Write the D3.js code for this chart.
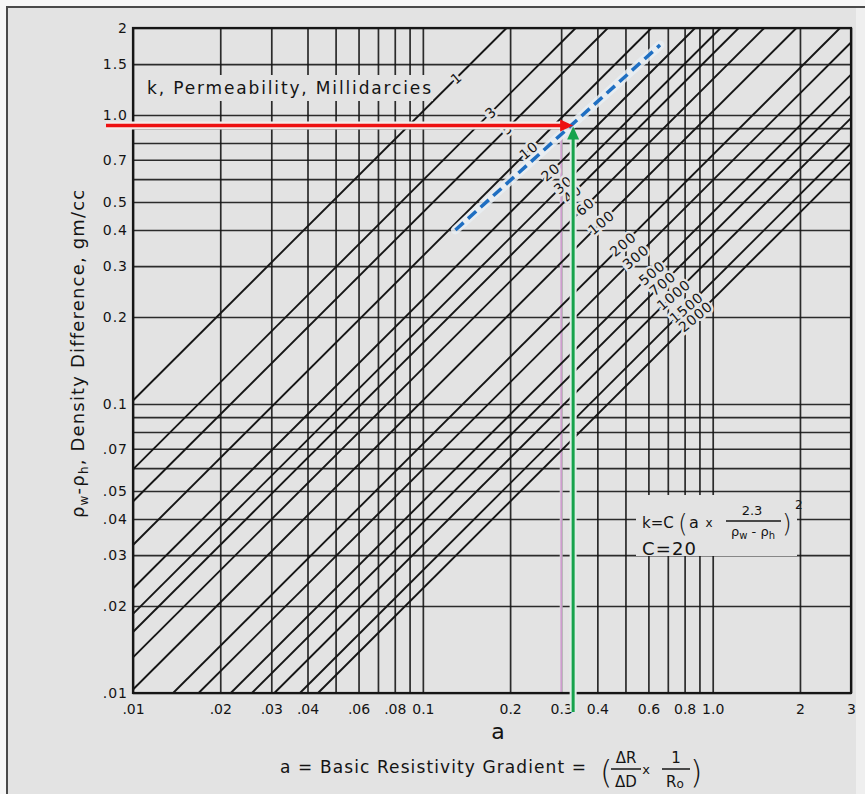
<!DOCTYPE html>
<html>
<head>
<meta charset="utf-8">
<script src="https://cdn.jsdelivr.net/npm/d3@7"></script>
<style>
  html, body { margin: 0; padding: 0; background: #fff; }
  svg { display: block; }
  text { font-family: "DejaVu Sans", "Liberation Sans", sans-serif; fill: #141414; }
</style>
</head>
<body>
<svg id="chart" width="865" height="794"></svg>
<script>
// Permeability lines (millidarcies) of k = C (a * 2.3 / (rho_w - rho_h))^2
const permeabilities = [1, 3, 5, 10, 20, 30, 40, 60, 100, 200, 300, 500, 700, 1000, 1500, 2000];
const coefC = 20;
const gradientFactor = 2.3;

// Log grid and tick labels
const xGridValues = [0.01, 0.02, 0.03, 0.04, 0.05, 0.06, 0.07, 0.08, 0.09, 0.1, 0.2, 0.3, 0.4, 0.5, 0.6, 0.7, 0.8, 0.9, 1, 2, 3];
const yGridValues = [0.01, 0.02, 0.03, 0.04, 0.05, 0.06, 0.07, 0.08, 0.09, 0.1, 0.2, 0.3, 0.4, 0.5, 0.6, 0.7, 0.8, 0.9, 1, 1.5, 2];
const xTickValues = [0.01, 0.02, 0.03, 0.04, 0.06, 0.08, 0.1, 0.2, 0.3, 0.4, 0.6, 0.8, 1, 2, 3];
const xTickLabels = [".01", ".02", ".03", ".04", ".06", ".08", "0.1", "0.2", "0.3", "0.4", "0.6", "0.8", "1.0", "2", "3"];
const yTickValues = [2, 1.5, 1, 0.7, 0.5, 0.4, 0.3, 0.2, 0.1, 0.07, 0.05, 0.04, 0.03, 0.02, 0.01];
const yTickLabels = ["2", "1.5", "1.0", "0.7", "0.5", "0.4", "0.3", "0.2", "0.1", ".07", ".05", ".04", ".03", ".02", ".01"];

// Worked example: reading at a = 0.33, density difference 0.92
const readGradient = 0.33;
const readDensity = 0.92;
const exampleGradients = [0.1295, 0.658];
const exampleDensities = [0.40, 1.746];

const BG = "#e3e3e3";
const INK = "#161616";
const svg = d3.select("#chart");

// page / frame
svg.append("rect").attr("x", 0).attr("y", 0).attr("width", 865).attr("height", 794).attr("fill", "#f7f7f7");
svg.append("rect").attr("x", 7).attr("y", 7).attr("width", 858).attr("height", 787).attr("fill", BG);
svg.append("line").attr("x1", 7).attr("x2", 7).attr("y1", 6).attr("y2", 794).attr("stroke", "#4a4a4a").attr("stroke-width", 2);
svg.append("line").attr("x1", 6).attr("x2", 865).attr("y1", 7).attr("y2", 7).attr("stroke", "#4a4a4a").attr("stroke-width", 2);

const plotLeft = 133, plotRight = 851, plotTop = 28, plotBottom = 693;
const x = d3.scaleLog().domain([0.01, 3]).range([plotLeft, plotRight]);
const y = d3.scaleLog().domain([0.01, 2]).range([plotBottom, plotTop]);

const density = (a, k) => gradientFactor * a * Math.sqrt(coefC / k);

// grid
const gx = svg.append("g").attr("transform", `translate(0,${plotBottom})`)
  .call(d3.axisBottom(x).tickValues(xGridValues).tickSize(-(plotBottom - plotTop)).tickFormat(""));
const gy = svg.append("g").attr("transform", `translate(${plotLeft},0)`)
  .call(d3.axisLeft(y).tickValues(yGridValues).tickSize(-(plotRight - plotLeft)).tickFormat(""));
[gx, gy].forEach(g => {
  g.select(".domain").remove();
  g.selectAll("line").attr("stroke", INK).attr("stroke-width", 1.7).attr("stroke-opacity", 0.9);
});

// the 0.3 gridline is tinted below the reading
svg.append("line").attr("x1", x(0.3)).attr("x2", x(0.3)).attr("y1", y(0.85)).attr("y2", plotBottom)
  .attr("stroke", BG).attr("stroke-width", 2.8);
svg.append("line").attr("x1", x(0.3)).attr("x2", x(0.3)).attr("y1", y(0.85)).attr("y2", plotBottom)
  .attr("stroke", "#c88cc8").attr("stroke-width", 1.3);

// permeability lines
const lineGen = d3.line().x(d => x(d[0])).y(d => y(d[1]));
const linesG = svg.append("g");
permeabilities.forEach(k => {
  const m = density(1, k);
  const a0 = Math.max(0.01, 0.01 / m);
  const a1 = Math.min(3, 2 / m);
  linesG.append("path")
    .attr("d", lineGen([[a0, density(a0, k)], [a1, density(a1, k)]]))
    .attr("fill", "none").attr("stroke", INK).attr("stroke-width", 1.9);
});

// plot frame
svg.append("rect").attr("x", plotLeft).attr("y", plotTop).attr("width", plotRight - plotLeft).attr("height", plotBottom - plotTop)
  .attr("fill", "none").attr("stroke", INK).attr("stroke-width", 2.2);

// labels along a guide crossing the lines at right angles (a * density = const)
const guide = 0.175;
permeabilities.forEach(k => {
  const m = density(1, k);
  const a = Math.sqrt(guide / m);
  const px = x(a), py = y(m * a);
  svg.append("text")
    .attr("transform", `translate(${px},${py}) rotate(-40)`)
    .attr("text-anchor", "middle").attr("dominant-baseline", "central")
    .attr("font-size", 14).attr("letter-spacing", 0.8)
    .attr("stroke", BG).attr("stroke-width", 5).attr("paint-order", "stroke")
    .text(k);
});

// letter-spacing so a text spans a given width
function fit(sel, width) {
  const node = sel.node();
  const len = node.getComputedTextLength();
  const n = node.textContent.length;
  sel.attr("letter-spacing", (width - len) / Math.max(1, n - 1));
  return sel;
}

// chart title inside the grid
const title = svg.append("text").attr("x", 147).attr("y", 94).attr("font-size", 17)
  .text("k, Permeability, Millidarcies");
fit(title, 284);
const tb = title.node().getBBox();
svg.append("rect").attr("x", tb.x - 4).attr("y", tb.y - 3).attr("width", tb.width + 4).attr("height", tb.height + 6)
  .attr("fill", BG);
title.raise();

// tick labels
const ax = svg.append("g").attr("transform", `translate(0,${plotBottom})`)
  .call(d3.axisBottom(x).tickValues(xTickValues).tickSize(0).tickPadding(11).tickFormat((d, i) => xTickLabels[i]));
const ay = svg.append("g").attr("transform", `translate(${plotLeft},0)`)
  .call(d3.axisLeft(y).tickValues(yTickValues).tickSize(0).tickPadding(5).tickFormat((d, i) => yTickLabels[i]));
[ax, ay].forEach(g => {
  g.select(".domain").remove();
  g.selectAll("text").attr("font-size", 14).attr("fill", INK)
    .style("font-family", '"DejaVu Sans", sans-serif');
});
ay.selectAll("text").attr("letter-spacing", 1);

// x axis symbol
svg.append("text").attr("x", 498).attr("y", 739).attr("text-anchor", "middle").attr("font-size", 22).text("a");

// x axis title with the gradient definition
const xt = svg.append("text").attr("x", 280).attr("y", 773).attr("font-size", 17).text("a = Basic Resistivity Gradient =");
fit(xt, 306);
svg.append("text").attr("x", 600).attr("y", 783).attr("font-size", 32).attr("font-weight", 200).text("(");
svg.append("text").attr("x", 626).attr("y", 763).attr("text-anchor", "middle").attr("font-size", 15).text("ΔR");
svg.append("line").attr("x1", 611).attr("x2", 641).attr("y1", 769).attr("y2", 769).attr("stroke", INK).attr("stroke-width", 1.5);
svg.append("text").attr("x", 626).attr("y", 787).attr("text-anchor", "middle").attr("font-size", 15).text("ΔD");
svg.append("text").attr("x", 646).attr("y", 774).attr("text-anchor", "middle").attr("font-size", 13).text("x");
svg.append("text").attr("x", 676).attr("y", 763).attr("text-anchor", "middle").attr("font-size", 15).text("1");
svg.append("line").attr("x1", 662).attr("x2", 690).attr("y1", 769).attr("y2", 769).attr("stroke", INK).attr("stroke-width", 1.5);
const ro = svg.append("text").attr("x", 675).attr("y", 787).attr("text-anchor", "middle").attr("font-size", 15);
ro.append("tspan").text("R");
ro.append("tspan").attr("font-size", 12).attr("dy", 1).text("o");
svg.append("text").attr("x", 690).attr("y", 783).attr("font-size", 32).attr("font-weight", 200).text(")");

// y axis title
const yt = svg.append("text").attr("transform", "translate(84,518) rotate(-90)").attr("font-size", 18);
yt.append("tspan").text("ρ");
yt.append("tspan").attr("font-size", 12).attr("dy", 4).text("w");
yt.append("tspan").attr("dy", -4).text("-ρ");
yt.append("tspan").attr("font-size", 12).attr("dy", 4).text("h");
yt.append("tspan").attr("dy", -4).text(", Density Difference, gm/cc");
fit(yt, 328);

// formula block
svg.append("rect").attr("x", 636).attr("y", 495).attr("width", 161).attr("height", 61).attr("fill", BG);
const formula = svg.append("g").attr("font-size", 15);
formula.append("text").attr("x", 642).attr("y", 528).text("k=C");
formula.append("text").attr("x", 678).attr("y", 532).attr("font-size", 25).attr("font-weight", 200).text("(");
formula.append("text").attr("x", 689).attr("y", 528).attr("font-size", 16).text("a");
formula.append("text").attr("x", 709).attr("y", 527).attr("text-anchor", "middle").attr("font-size", 12).text("x");
formula.append("text").attr("x", 752).attr("y", 515).attr("text-anchor", "middle").attr("font-size", 13).text("2.3");
formula.append("line").attr("x1", 726).attr("x2", 781).attr("y1", 521).attr("y2", 521).attr("stroke", INK).attr("stroke-width", 1.3);
const den = formula.append("text").attr("x", 753).attr("y", 536).attr("text-anchor", "middle").attr("font-size", 13);
den.append("tspan").text("ρ");
den.append("tspan").attr("font-size", 10).attr("dy", 3).text("w");
den.append("tspan").attr("dy", -3).text(" - ρ");
den.append("tspan").attr("font-size", 10).attr("dy", 3).text("h");
formula.append("text").attr("x", 782).attr("y", 532).attr("font-size", 25).attr("font-weight", 200).text(")");
formula.append("text").attr("x", 795).attr("y", 509).attr("font-size", 12).text("2");
const fc = formula.append("text").attr("x", 642).attr("y", 555).attr("font-size", 18).text("C=20");
fit(fc, 54);

// worked example: dashed permeability line through the reading
const ex = [[exampleGradients[0], exampleDensities[0]], [exampleGradients[1], exampleDensities[1]]];
svg.append("path").attr("d", lineGen(ex)).attr("stroke", "#e9eef3").attr("stroke-width", 9)
  .attr("stroke-linecap", "round").attr("fill", "none").attr("opacity", 0.85);
svg.append("path").attr("d", lineGen(ex)).attr("stroke", "#1f6fc2").attr("stroke-width", 3.5)
  .attr("stroke-dasharray", "11,6").attr("fill", "none");

// horizontal reading (red)
const ry = y(readDensity), gxp = x(readGradient);
svg.append("line").attr("x1", 106).attr("x2", gxp - 10).attr("y1", ry).attr("y2", ry)
  .attr("stroke", "#f4ecea").attr("stroke-width", 8);
svg.append("line").attr("x1", 106).attr("x2", gxp - 10).attr("y1", ry).attr("y2", ry)
  .attr("stroke", "#ee1111").attr("stroke-width", 3.5);
svg.append("path").attr("d", `M${gxp},${ry} L${gxp - 13},${ry - 6} L${gxp - 13},${ry + 6} Z`).attr("fill", "#ee1111");

// vertical reading (green)
svg.append("line").attr("x1", gxp).attr("x2", gxp).attr("y1", 712).attr("y2", ry + 12)
  .attr("stroke", "#dfeee6").attr("stroke-width", 7);
svg.append("line").attr("x1", gxp).attr("x2", gxp).attr("y1", 712).attr("y2", ry + 12)
  .attr("stroke", "#16a34c").attr("stroke-width", 3);
svg.append("path").attr("d", `M${gxp},${ry + 1} L${gxp - 6},${ry + 14} L${gxp + 6},${ry + 14} Z`).attr("fill", "#16a34c");

// paper edge on the right
svg.append("rect").attr("x", 856).attr("y", 8).attr("width", 9).attr("height", 786).attr("fill", "#efefef");
</script>
</body>
</html>
